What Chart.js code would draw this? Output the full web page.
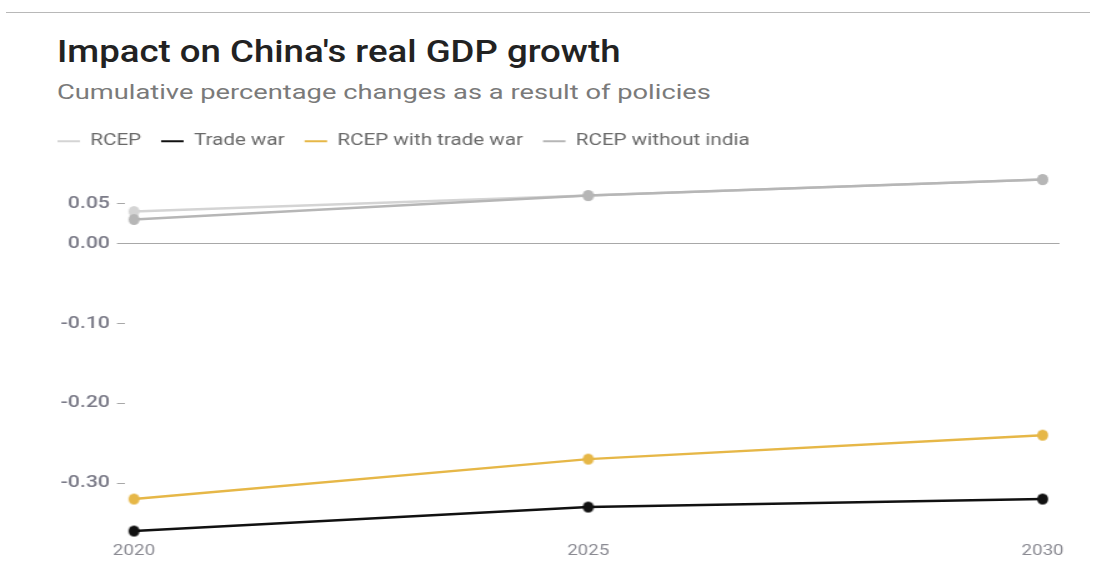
<!DOCTYPE html>
<html>
<head>
<meta charset="utf-8">
<script src="https://cdn.jsdelivr.net/npm/chart.js@4.4.1/dist/chart.umd.min.js"></script>
<style>
  html, body { margin: 0; padding: 0; background: #fff; }
  #wrap { position: relative; width: 1102px; height: 563px; overflow: hidden; }
  #topLine { position: absolute; left: 6px; top: 12px; width: 1084px; height: 1px; background: #b8b8b8; }
  #title { position: absolute; left: 57px; top: 34px; margin: 0; font: 500 31px Roboto, sans-serif; line-height: 36px; color: #222;
           white-space: nowrap; transform: scaleX(1.18); transform-origin: 0 0; }
  #subtitle { position: absolute; left: 57px; top: 79px; margin: 0; font: 400 21px Roboto, sans-serif; line-height: 26px; color: #7a7a7a;
              white-space: nowrap; transform: scaleX(1.3); transform-origin: 0 0; }
  /* the source picture is stretched sideways, so the chart is drawn narrow and widened */
  #stretch { position: absolute; left: 0; top: 0; width: 882px; height: 563px; transform: scaleX(1.2495); transform-origin: 0 0; }
</style>
</head>
<body>
<div id="wrap">
  <div id="topLine"></div>
  <h1 id="title">Impact on China's real GDP growth</h1>
  <p id="subtitle">Cumulative percentage changes as a result of policies</p>
  <div id="stretch"><canvas id="gdpChart" width="882" height="563"></canvas></div>
</div>
<script>
// years on the x axis
const years = ["2020", "2025", "2030"];

// cumulative % change in real GDP
const rcep = [0.04, 0.06, 0.08];
const tradeWar = [-0.36, -0.33, -0.32];
const rcepWithTradeWar = [-0.32, -0.27, -0.24];
const rcepWithoutIndia = [0.03, 0.06, 0.08];

// only these y ticks are labelled
const yTicks = [0.05, 0.00, -0.10, -0.20, -0.30];

const SQUEEZE = 1.2495;

const toPoints = vals => vals.map((v, i) => ({ x: Number(years[i]), y: v }));

// round dot after the sideways stretch -> draw it as a narrow ellipse
function dot(color, r) {
  const c = document.createElement("canvas");
  const rx = r / SQUEEZE;
  c.width = Math.ceil(rx * 2) + 2;
  c.height = Math.ceil(r * 2) + 2;
  const g = c.getContext("2d");
  g.fillStyle = color;
  g.beginPath();
  g.ellipse(c.width / 2, c.height / 2, rx, r, 0, 0, Math.PI * 2);
  g.fill();
  return c;
}

function series(label, values, color, order) {
  return {
    label: label,
    data: toPoints(values),
    borderColor: color,
    backgroundColor: color,
    borderWidth: 2.5,
    pointStyle: dot(color, 5.5),
    pointRadius: 5,
    pointHoverRadius: 5,
    tension: 0,
    order: order
  };
}

const ctx = document.getElementById("gdpChart").getContext("2d");

new Chart(ctx, {
  type: "line",
  data: {
    datasets: [
      series("RCEP", rcep, "#d4d4d4", 3),
      series("Trade war", tradeWar, "#111111", 1),
      series("RCEP with trade war", rcepWithTradeWar, "#e6b747", 2),
      series("RCEP without india", rcepWithoutIndia, "#b6b6b6", 0)
    ]
  },
  options: {
    responsive: false,
    animation: false,
    devicePixelRatio: 1,
    layout: {
      padding: { top: 117, left: 30, right: 34, bottom: 0 }
    },
    scales: {
      x: {
        type: "linear",
        min: 2019.901,
        max: 2030.187,
        afterBuildTicks: scale => {
          scale.ticks = years.map(y => ({ value: Number(y) }));
        },
        grid: { display: false, drawTicks: false },
        border: { display: false },
        ticks: {
          color: "#8a8a92",
          font: { family: "Roboto", size: 15 },
          padding: 3,
          maxRotation: 0,
          callback: v => String(v)
        }
      },
      y: {
        min: -0.37,
        max: 0.1051,
        afterBuildTicks: scale => {
          scale.ticks = yTicks.map(v => ({ value: v }));
        },
        afterFit: scale => { scale.width = 70; },
        border: { display: false },
        grid: {
          drawOnChartArea: true,
          color: c => (c.tick && c.tick.value === 0 ? "#a8a8a8" : "rgba(0,0,0,0)"),
          tickColor: "#a8a8a8",
          tickLength: 6.4,
          lineWidth: 1
        },
        ticks: {
          color: "#7b7b88",
          font: { family: "Roboto", size: 17, weight: "500" },
          padding: 5.6,
          callback: v => v.toFixed(2)
        }
      }
    },
    plugins: {
      legend: {
        position: "top",
        align: "start",
        labels: {
          color: "#6a6a6a",
          font: { family: "Roboto", size: 16.5 },
          boxWidth: 18,
          boxHeight: 2,
          padding: 16,
          generateLabels: chart => {
            const items = Chart.defaults.plugins.legend.labels.generateLabels(chart);
            items.sort((a, b) => a.datasetIndex - b.datasetIndex);
            items.forEach(it => { it.lineWidth = 0; it.fillStyle = it.strokeStyle; });
            return items;
          }
        }
      },
      tooltip: { enabled: false }
    }
  }
});
</script>
</body>
</html>
